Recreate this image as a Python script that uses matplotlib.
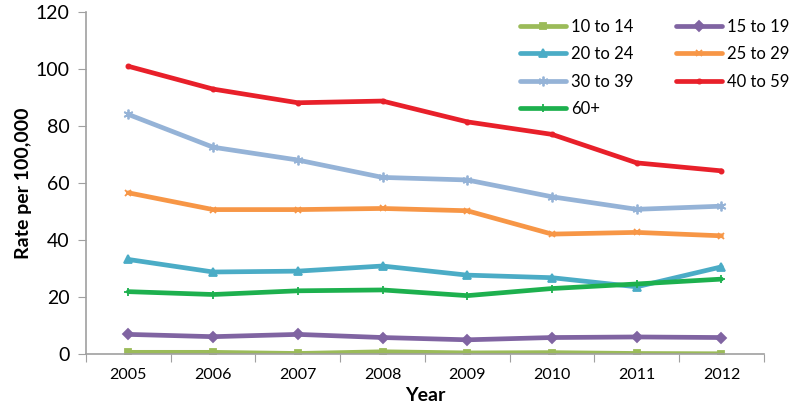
import numpy as np
import matplotlib.pyplot as plt

plt.rcParams['font.family'] = ['Lato', 'DejaVu Sans']

# === DATA ===
years = ["2005", "2006", "2007", "2008", "2009", "2010", "2011", "2012"]
age_10_14 = [0.6, 0.6, 0.2, 0.8, 0.4, 0.5, 0.2, 0.1]
age_15_19 = [6.9, 6.1, 6.9, 5.8, 5.0, 5.8, 6.0, 5.8]
age_20_24 = [33.2, 28.8, 29.1, 30.9, 27.7, 26.8, 23.6, 30.6]
age_25_29 = [56.6, 50.7, 50.7, 51.1, 50.3, 42.1, 42.7, 41.5]
age_30_39 = [84.1, 72.6, 68.1, 62.0, 61.1, 55.2, 50.8, 51.9]
age_40_59 = [101.0, 93.0, 88.2, 88.8, 81.5, 77.1, 67.1, 64.3]
age_60p = [21.9, 20.9, 22.2, 22.5, 20.5, 23.0, 24.6, 26.3]

# label, values, colour, marker, marker size
series = [
    ("10 to 14", age_10_14, "#9BBB59", "s", 5),
    ("20 to 24", age_20_24, "#4BACC6", "^", 6),
    ("30 to 39", age_30_39, "#95B3D7", (6, 2, 0), 7),
    ("60+", age_60p, "#1DB04E", "+", 6),
    ("15 to 19", age_15_19, "#8064A2", "D", 5),
    ("25 to 29", age_25_29, "#F79646", "x", 5),
    ("40 to 59", age_40_59, "#E8202A", "o", 3),
]

fig = plt.figure(figsize=(7.89, 4.19), dpi=100)
ax = fig.add_axes([0.109, 0.155, 0.859, 0.816])

x = np.arange(len(years))
for label, vals, color, marker, ms in series:
    ax.plot(x, vals, color=color, lw=3.4, marker=marker, ms=ms,
            mec=color, mfc=color, mew=1.3, label=label, solid_capstyle="round")

ax.set_xlim(-0.5, len(years) - 0.5)
ax.set_ylim(0, 120)
ax.set_yticks(range(0, 121, 20))
ax.tick_params(axis="y", labelsize=14, length=6, color="#A0A0A0", pad=6)

# category boundaries carry the tick marks, labels sit between them
ax.set_xticks(np.arange(-0.5, len(years), 1.0))
ax.set_xticklabels([])
ax.tick_params(axis="x", which="major", length=6, color="#A0A0A0")
ax.set_xticks(x, minor=True)
ax.set_xticklabels(years, minor=True, fontsize=11.5)
ax.tick_params(axis="x", which="minor", length=0, pad=10)

for s in ["top", "right"]:
    ax.spines[s].set_visible(False)
for s in ["left", "bottom"]:
    ax.spines[s].set_color("#A0A0A0")
    ax.spines[s].set_linewidth(1.2)

ax.set_xlabel("Year", fontsize=14, fontweight="bold", labelpad=4)
ax.set_ylabel("Rate per 100,000", fontsize=14, fontweight="bold")
ax.yaxis.set_label_coords(-0.08, 0.5)

ax.legend(ncol=2, frameon=False, fontsize=12, loc="upper left",
          bbox_to_anchor=(0.618, 1.024), handlelength=2.75, handletextpad=0.3,
          columnspacing=2.6, labelspacing=0.68)

fig.savefig("out.png", dpi=100)
